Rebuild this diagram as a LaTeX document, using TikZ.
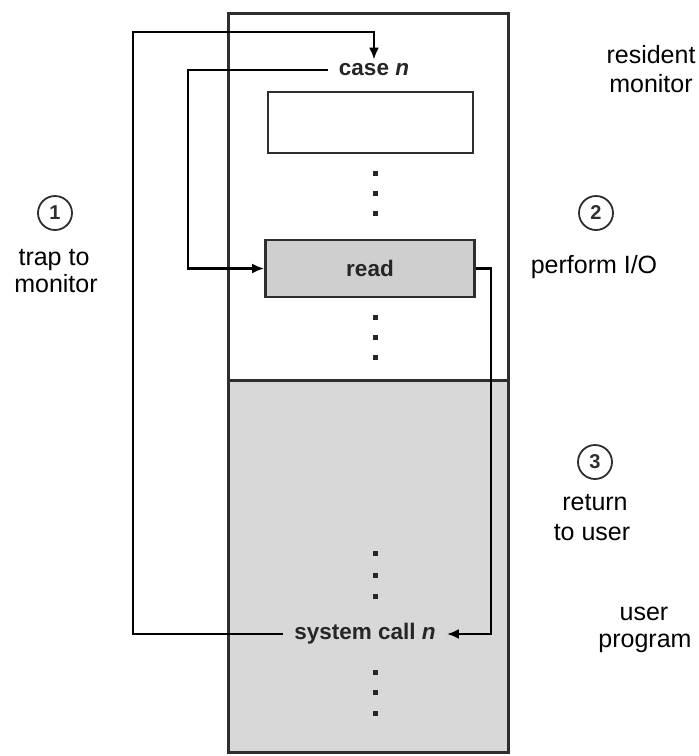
\documentclass[tikz,border=0pt]{standalone}
\usepackage{fontspec}
\setmainfont{Liberation Sans}
\usetikzlibrary{arrows.meta}
\definecolor{usergray}{HTML}{D8D8D8}
\definecolor{readgray}{HTML}{CFCFCF}
\definecolor{framecol}{HTML}{2E2E2E}
\definecolor{inktext}{HTML}{262626}
\tikzset{
  frame/.style={draw=framecol, line width=3pt},
  conn/.style={draw=black, line width=2.6pt},
  tipend/.style={-{Latex[length=12pt,width=10pt]}},
  codetext/.style={font=\fontsize{22.5}{24}\selectfont\bfseries, text=inktext, inner xsep=11pt, inner ysep=4pt},
  lbl/.style={font=\fontsize{25}{28}\selectfont, anchor=base, inner sep=0pt},
  stepnum/.style={circle, draw=framecol, line width=1.8pt, minimum size=34pt, inner sep=0pt, font=\fontsize{20}{20}\selectfont\bfseries, text=framecol},
  dotmark/.style={fill=inktext}
}
\begin{document}
\begin{tikzpicture}[x=1pt,y=-1pt]
\useasboundingbox (0,0) rectangle (699,756);
% user program area
\fill[usergray] (228,380) rectangle (508,752);
\draw[frame] (228,13) rectangle (508,752);
\draw[frame] (228,380) -- (508,380);
% empty table entry
\draw[draw=framecol, line width=2.6pt] (268,92) rectangle (473,153);
% read routine
\node[draw=framecol, line width=2.6pt, fill=readgray, minimum width=209pt, minimum height=57pt,
      font=\fontsize{22.5}{24}\selectfont\bfseries, text=inktext] (read) at (370,268.5) {read};
% code texts
\node[codetext] (casen) at (374,70) {case \textit{n}};
\node[codetext] (syscall) at (365,634) {system call \textit{n}};
% dots
\foreach \yy in {173,193,213,317,337,357,553,575,596,672,692,713}
  \fill[dotmark] (372.5,\yy-2.5) rectangle ++(5,5);
% helper coordinates
\coordinate (trapx) at (133,32);
\coordinate (dispx) at (188,0);
\coordinate (retx) at (491,0);
% connectors
\draw[conn, tipend] (syscall.west) -| (trapx) -| (casen.north);
\draw[conn, tipend] (casen.west) -| (dispx |- read.west) -- (read.west);
\draw[conn, tipend] (read.east) -| (retx |- syscall.east) -- (syscall.east);
% step labels
\node[stepnum] (s1) at (55,213) {1};
\node[lbl] (t1a) at (54,265) {trap to};
\node[lbl] (t1b) at (56,292) {monitor};
\node[stepnum] (s2) at (596,213) {2};
\node[lbl] (t2) at (594,273) {perform I/O};
\node[stepnum] (s3) at (595,462) {3};
\node[lbl] (t3a) at (595,510) {return};
\node[lbl] (t3b) at (592,540) {to user};
\node[lbl] (rm1) at (651,63) {resident};
\node[lbl] (rm2) at (651,92) {monitor};
\node[lbl] (up1) at (644,620) {user};
\node[lbl] (up2) at (645,647) {program};
\end{tikzpicture}
\end{document}
